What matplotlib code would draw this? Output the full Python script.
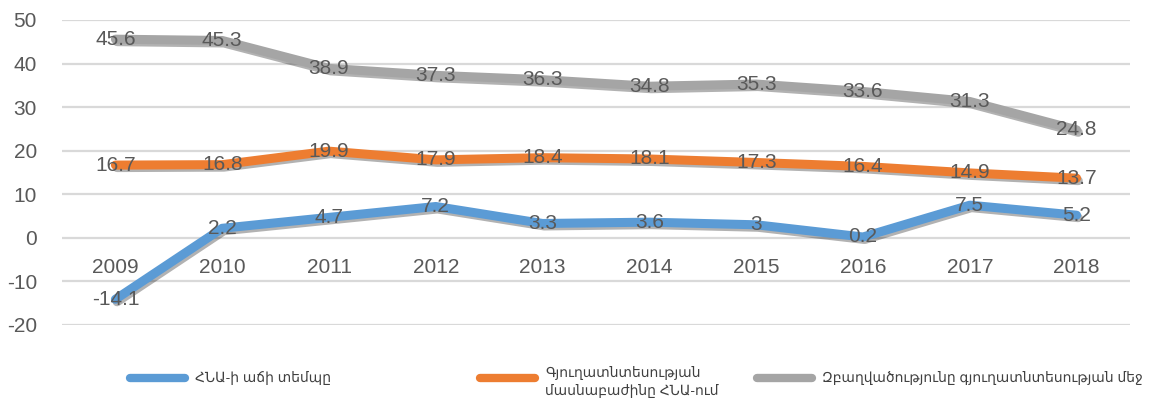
import matplotlib
matplotlib.use("Agg")
import matplotlib.pyplot as plt
import matplotlib.patheffects as pe
from matplotlib.lines import Line2D

years = ["2009", "2010", "2011", "2012", "2013", "2014", "2015", "2016", "2017", "2018"]
gdp_growth = [-14.1, 2.2, 4.7, 7.2, 3.3, 3.6, 3.0, 0.2, 7.5, 5.2]
agri_share = [16.7, 16.8, 19.9, 17.9, 18.4, 18.1, 17.3, 16.4, 14.9, 13.7]
employment = [45.6, 45.3, 38.9, 37.3, 36.3, 34.8, 35.3, 33.6, 31.3, 24.8]
gdp_labels = ["-14.1", "2.2", "4.7", "7.2", "3.3", "3.6", "3", "0.2", "7.5", "5.2"]
agri_labels = ["16.7", "16.8", "19.9", "17.9", "18.4", "18.1", "17.3", "16.4", "14.9", "13.7"]
emp_labels = ["45.6", "45.3", "38.9", "37.3", "36.3", "34.8", "35.3", "33.6", "31.3", "24.8"]
series_names = ["ՀՆԱ-ի աճի տեմպը",
                "Գյուղատնտեսության\nմասնաբաժինը ՀՆԱ-ում",
                "Զբաղվածությունը գյուղատնտեսության մեջ"]
yticks = [-20, -10, 0, 10, 20, 30, 40, 50]

FONT = ["Liberation Sans", "DejaVu Sans"]
plt.rcParams["font.family"] = FONT
TXT = "#595959"
colors = ["#5B9BD5", "#ED7D31", "#A5A5A5"]
FS = 15

W, H = 1158, 403
fig = plt.figure(figsize=(W / 100, H / 100), dpi=100)
ax = fig.add_axes([62 / W, 1 - 325 / H, (1130 - 62) / W, (325 - 20) / H])
ax.set_xlim(-0.5, len(years) - 0.5)
ax.set_ylim(-20, 50)
ax.set_yticks(yticks)
ax.set_yticklabels([str(t) for t in yticks], color=TXT, fontsize=FS)
ax.tick_params(axis="y", length=0, pad=18)
ax.set_xticks([])
for s in ax.spines.values():
    s.set_visible(False)
ax.grid(axis="y", color="#D9D9D9", linewidth=1.6)
ax.set_axisbelow(True)

x = list(range(len(years)))
shadow = [pe.SimpleLineShadow(offset=(1.2, -1.8), shadow_color="black", alpha=0.3, rho=0.3), pe.Normal()]
for vals, labs, c in [(employment, emp_labels, colors[2]),
                      (agri_share, agri_labels, colors[1]),
                      (gdp_growth, gdp_labels, colors[0])]:
    ax.plot(x, vals, color=c, linewidth=6.5, solid_capstyle="round",
            solid_joinstyle="round", path_effects=shadow, zorder=3)
    for xi, v, l in zip(x, vals, labs):
        ax.text(xi, v, l, ha="center", va="center", color=TXT, fontsize=FS, zorder=5)

for xi, yr in zip(x, years):
    ax.text(xi, -6.9, yr, ha="center", va="center", color=TXT, fontsize=FS, zorder=5)

# legend
leg = [(130, 185, 195, 378), (480, 535, 545, 382), (757, 812, 822, 378)]
for (x0, x1, xt, yt), c, name in zip(leg, colors, series_names):
    yl = 1 - 378 / H
    fig.add_artist(Line2D([x0 / W, x1 / W], [yl, yl], color=c, linewidth=6,
                          solid_capstyle="round", transform=fig.transFigure))
    fig.text(xt / W, 1 - yt / H, name, ha="left", va="center", color="#404040",
             fontsize=10, linespacing=1.3)

fig.savefig("out.png", dpi=100)
